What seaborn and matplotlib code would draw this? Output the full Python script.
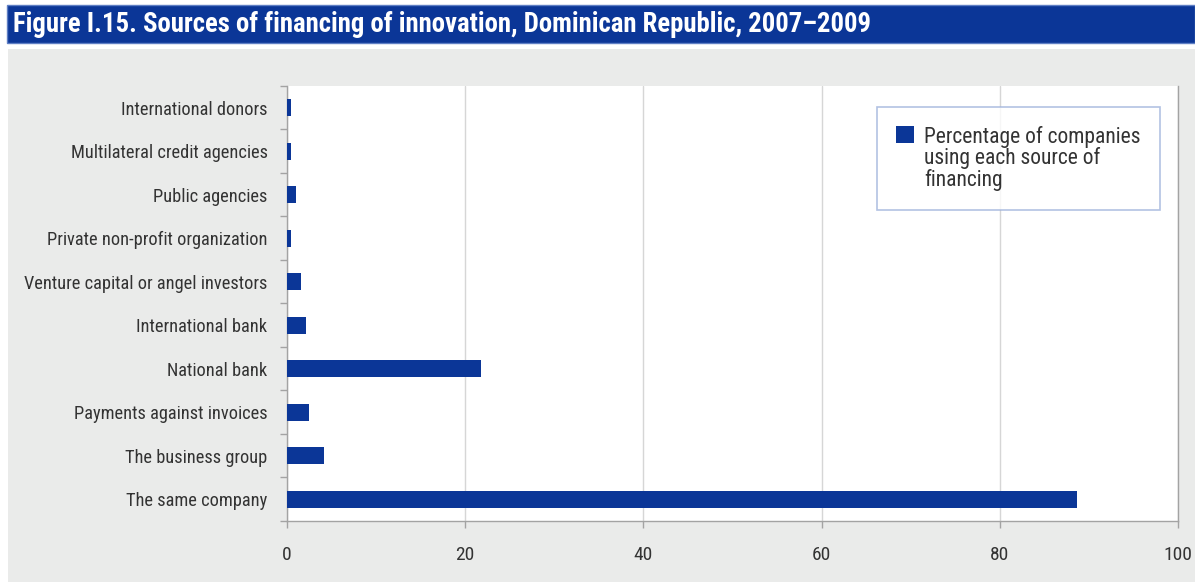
import matplotlib
matplotlib.use("Agg")
import matplotlib.pyplot as plt
from matplotlib import font_manager
from matplotlib.patches import Rectangle, Patch
import numpy as np
import pandas as pd
import seaborn as sns

# Financing sources, listed top to bottom, and share of companies using each (%)
sources = [
    "International donors",
    "Multilateral credit agencies",
    "Public agencies",
    "Private non-profit organization",
    "Venture capital or angel investors",
    "International bank",
    "National bank",
    "Payments against invoices",
    "The business group",
    "The same company",
]
shares = [0.5, 0.5, 1.0, 0.5, 1.6, 2.1, 21.8, 2.5, 4.2, 88.7]
x_ticks = [0, 20, 40, 60, 80, 100]
series_label = "Percentage of companies\nusing each source of\nfinancing"
title = "Figure I.15. Sources of financing of innovation, Dominican Republic, 2007\u20132009"

BLUE = "#0b3697"
PANEL = "#eaebea"
AXIS_GREY = "#a3a3a3"
TEXT = "#333333"

sns.set_theme(style="white")

# Prefer a condensed sans face when one is installed
installed = {f.name for f in font_manager.fontManager.ttflist}
family = "Liberation Sans"
for cand in ["Roboto Condensed", "Liberation Sans Narrow", "Open Sans Condensed", "DejaVu Sans Condensed"]:
    if cand in installed:
        family = cand
        break
plt.rcParams["font.family"] = [family, "DejaVu Sans"]

W, H = 1195, 582
fig = plt.figure(figsize=(W / 100, H / 100), dpi=100)
fig.patch.set_facecolor("white")

# Grey backing panel and blue title banner
fig.add_artist(Rectangle((8 / W, 0), 1 - 8 / W, (H - 49) / H, transform=fig.transFigure,
                         facecolor=PANEL, edgecolor="none", zorder=0))
fig.add_artist(Rectangle((7 / W, (H - 43) / H), 1 - 7 / W, 38 / H, transform=fig.transFigure,
                         facecolor=BLUE, edgecolor="#5f7fc4", linewidth=1, zorder=0))
fig.text(13 / W, (H - 24) / H, title, color="white", fontsize=19.3, fontweight="bold",
         va="center", ha="left")

ax = fig.add_axes([287 / W, 61 / H, 891 / W, 435 / H])
ax.set_facecolor("white")

df = pd.DataFrame({"source": sources, "share": shares})
sns.barplot(data=df, y="source", x="share", orient="h", color=BLUE, saturation=1,
            width=0.4, linewidth=0, ax=ax, zorder=3)

ax.set_xlim(0, 100)
ax.set_ylim(len(sources) - 0.5, -0.5)
ax.set_xticks(x_ticks)
ax.set_xticklabels([str(t) for t in x_ticks])
ax.set_xlabel("")
ax.set_ylabel("")

ax.xaxis.grid(True, color="#d6d6d6", linewidth=1)
ax.yaxis.grid(False)
ax.set_axisbelow(True)

# Category labels without major ticks; small ticks sit between categories
ax.set_yticks(range(len(sources)))
ax.set_yticklabels(sources)
ax.set_yticks(np.arange(-0.5, len(sources), 1.0), minor=True)
ax.tick_params(axis="y", which="major", length=0, pad=14, labelsize=13.2, labelcolor=TEXT)
ax.tick_params(axis="y", which="minor", length=5, width=1, color=AXIS_GREY, left=True)
ax.tick_params(axis="x", which="major", length=5, width=1, color=AXIS_GREY, bottom=True,
               pad=13, labelsize=14, labelcolor=TEXT)

for side in ["left", "bottom", "right"]:
    ax.spines[side].set_visible(True)
    ax.spines[side].set_color(AXIS_GREY)
    ax.spines[side].set_linewidth(1)
ax.spines["top"].set_visible(False)

leg = ax.legend(handles=[Patch(facecolor=BLUE, edgecolor="none", label=series_label)],
                loc="upper right", bbox_to_anchor=(0.98, 0.952), borderaxespad=0,
                fontsize=15.5, frameon=True, fancybox=False, handlelength=0.8,
                handleheight=0.8, handletextpad=0.5, borderpad=0.9, labelspacing=0.2)
leg.get_frame().set_edgecolor("#9fb3dc")
leg.get_frame().set_linewidth(1.2)
for t in leg.get_texts():
    t.set_color(TEXT)
    t.set_linespacing(0.95)
# Put the marker level with the first text line
for column in leg._legend_handle_box.get_children():
    for item in column.get_children():
        item.align = "top"

fig.savefig("out.png", dpi=100, facecolor=fig.get_facecolor())
